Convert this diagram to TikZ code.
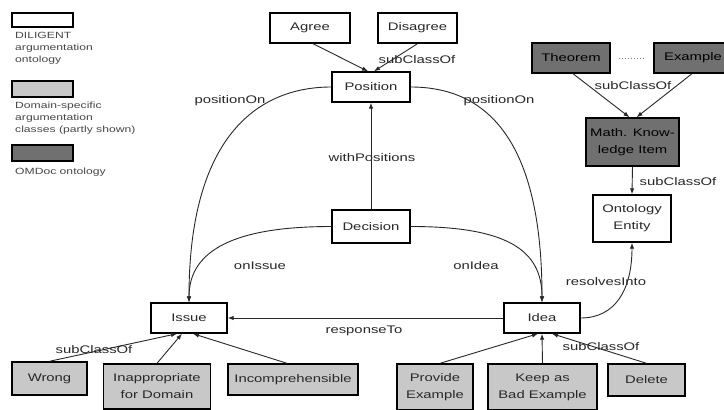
\documentclass[tikz,border=0pt]{standalone}
\usepackage{fontspec}
\setmainfont{Liberation Sans}[FakeStretch=1.35]
\usetikzlibrary{arrows.meta}
\definecolor{ink}{RGB}{40,40,40}
\definecolor{domfill}{RGB}{200,200,200}
\definecolor{omfill}{RGB}{112,112,112}
\begin{document}
\begin{tikzpicture}[x=1pt,y=-1pt,
  box/.style={draw=black, line width=1.4pt, fill=white, text=ink,
    font=\fontsize{11}{17}\selectfont, align=center, inner sep=0pt},
  dom/.style={box, fill=domfill},
  omd/.style={box, fill=omfill, text=black},
  rel/.style={draw=ink, line width=0.9pt, -{Latex[length=6pt,width=4.5pt]}},
  lbl/.style={text=ink, font=\fontsize{11}{13}\selectfont, inner sep=0pt},
  legtxt/.style={text=ink!85, font=\fontsize{9}{12}\selectfont, align=left,
    inner sep=0pt, anchor=north west}
]
\clip (0,0) rectangle (724,410);
\fill[white] (0,0) rectangle (724,410);

% legend
\node[box, minimum width=61pt, minimum height=14pt] (legdil) at (42.5,20) {};
\node[legtxt] (legdiltext) at (15,32) {DILIGENT\\argumentation\\ontology};
\node[dom, minimum width=61pt, minimum height=16pt] (legdom) at (42.5,89) {};
\node[legtxt] (legdomtext) at (15,102) {Domain-specific\\argumentation\\classes (partly shown)};
\node[omd, minimum width=61pt, minimum height=16pt] (legomd) at (42.5,153) {};
\node[legtxt] (legomdtext) at (15,168) {OMDoc ontology};

% argumentation core
\node[box, minimum width=80pt, minimum height=30pt] (agree) at (310,28) {Agree};
\node[box, minimum width=79pt, minimum height=30pt] (disagree) at (417.5,28) {Disagree};
\node[box, minimum width=78pt, minimum height=30pt] (position) at (371,87) {Position};
\node[box, minimum width=78pt, minimum height=33pt] (decision) at (371,226.5) {Decision};
\node[box, minimum width=76pt, minimum height=30pt] (issue) at (189,318) {Issue};
\node[box, minimum width=76pt, minimum height=30pt] (idea) at (542,318) {Idea};

% OMDoc side
\node[omd, minimum width=78pt, minimum height=30pt] (theorem) at (571,58) {Theorem};
\node[omd, minimum width=78pt, minimum height=30pt] (example) at (693,58) {Example};
\node[omd, minimum width=93pt, minimum height=48pt] (mki) at (632.5,142) {Math. Know-\\ledge Item};
\node[box, minimum width=78pt, minimum height=47pt] (oe) at (632,218.5) {Ontology\\Entity};

% domain-specific classes
\node[dom, minimum width=75pt, minimum height=33pt] (wrong) at (49.5,378.5) {Wrong};
\node[dom, minimum width=107pt, minimum height=45pt] (inapp) at (157,386.5) {Inappropriate\\for Domain};
\node[dom, minimum width=130pt, minimum height=31pt] (incomp) at (293,379.5) {Incomprehensible};
\node[dom, minimum width=76pt, minimum height=46pt] (provide) at (435,387) {Provide\\Example};
\node[dom, minimum width=109pt, minimum height=46pt] (keep) at (542.5,387) {Keep as\\Bad Example};
\node[dom, minimum width=77pt, minimum height=32pt] (delete) at (646.5,380) {Delete};

% relations
\draw[rel] ([xshift=3pt]agree.south) -- ([xshift=-3pt]position.north);
\draw[rel] (disagree.south) -- ([xshift=3pt]position.north);
\draw[rel] (position.west) .. controls (255,87) and (189,140) .. (issue.north);
\draw[rel] (position.east) .. controls (487,87) and (542,140) .. (idea.north);
\draw[rel] (decision.north) -- (position.south);
\draw[rel] (decision.west) .. controls (235,226.5) and (189,250) .. (issue.north);
\draw[rel] (decision.east) .. controls (507,226.5) and (542,250) .. (idea.north);
\draw[rel] (idea.west) -- (issue.east);
\draw[rel] (idea.east) .. controls (615,318) and (632,290) .. (oe.south);
\draw[rel] ([xshift=2pt]theorem.south) -- ([xshift=-3pt]mki.north);
\draw[rel] ([xshift=-1pt]example.south) -- ([xshift=4pt]mki.north);
\draw[rel] (mki.south) -- (oe.north);
\draw[draw=gray, line width=1pt, dotted] ([xshift=8pt]theorem.east) -- ([xshift=-8pt]example.west);
\draw[rel] (wrong.north) -- ([xshift=-12pt]issue.south);
\draw[rel] (inapp.north) -- ([xshift=-7pt]issue.south);
\draw[rel] ([xshift=-6pt]incomp.north) -- ([xshift=4pt]issue.south);
\draw[rel] ([xshift=5pt]provide.north) -- ([xshift=-4pt]idea.south);
\draw[rel] (keep.north) -- (idea.south);
\draw[rel] (delete.north) -- ([xshift=10pt]idea.south);

% relation labels
\node[lbl] (lsubtop) at (417,60) {subClassOf};
\node[lbl] (lposl) at (230,101) {positionOn};
\node[lbl] (lposr) at (499,101) {positionOn};
\node[lbl] (lwith) at (372,158) {withPositions};
\node[lbl] (lonissue) at (260,266) {onIssue};
\node[lbl] (lonidea) at (476,266) {onIdea};
\node[lbl] (lresp) at (364,331) {responseTo};
\node[lbl] (lres) at (606,282) {resolvesInto};
\node[lbl] (lsubomd) at (633,86) {subClassOf};
\node[lbl] (lsubmki) at (678,182) {subClassOf};
\node[lbl] (lsubissue) at (94,350) {subClassOf};
\node[lbl] (lsubidea) at (601,347) {subClassOf};
\end{tikzpicture}
\end{document}
